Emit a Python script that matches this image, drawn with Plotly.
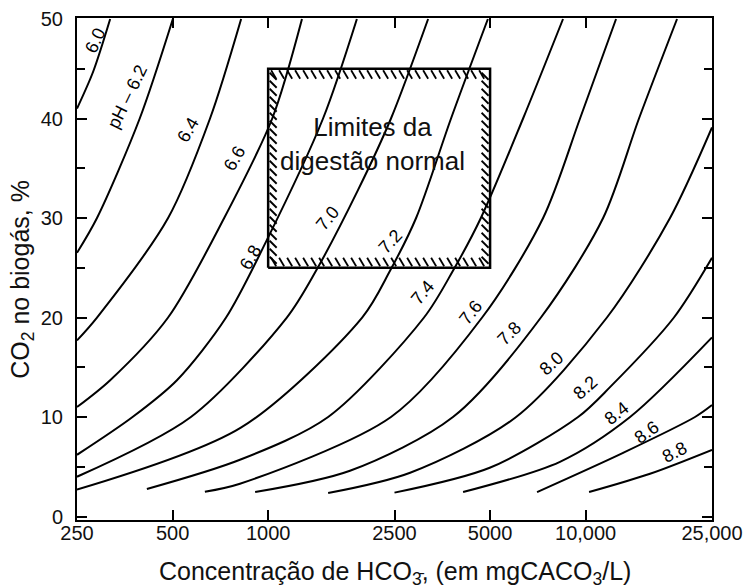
import math
import plotly.graph_objects as go

# ---------------- data ----------------
ph_names = ["6.0", "6.2", "6.4", "6.6", "6.8", "7.0", "7.2", "7.4",
            "7.6", "7.8", "8.0", "8.2", "8.4", "8.6", "8.8"]

x_ph60 = [250, 281, 318]
y_ph60 = [41.0, 44.7, 50]
x_ph62 = [250, 289, 394, 501]
y_ph62 = [26.5, 30, 40, 50]
x_ph64 = [250, 289, 484, 656, 822]
y_ph64 = [17.7, 20, 30, 40, 50]
x_ph66 = [250, 318, 484, 727, 1030, 1278]
y_ph66 = [11.0, 13.7, 20, 30, 40, 50]
x_ph68 = [250, 374, 516, 737, 991, 1489, 1903]
y_ph68 = [6.2, 10, 13.7, 20, 27.8, 40, 50]
x_ph70 = [250, 571, 1145, 1415, 1918, 2437, 3190]
y_ph70 = [4.0, 10, 20, 24.7, 32.8, 40, 50]
x_ph72 = [250, 818, 1977, 2420, 2924, 3767, 4921]
y_ph72 = [2.7, 8.9, 20, 24.7, 30, 40, 50]
x_ph74 = [415, 815, 1545, 3097, 3820, 4677, 6352, 8486]
y_ph74 = [2.76, 5.7, 10, 20, 24.7, 30, 40, 50]
x_ph76 = [632, 815, 2437, 4720, 7345, 9600, 12466]
y_ph76 = [2.5, 3.3, 10, 20, 30, 40, 50]
x_ph78 = [910, 1810, 3820, 7230, 11350, 14723, 19400]
y_ph78 = [2.46, 4.6, 10, 20, 30, 40, 50]
x_ph80 = [1545, 2800, 6040, 11670, 18440, 25000]
y_ph80 = [2.36, 4.4, 10, 20, 30, 39.1]
x_ph82 = [2500, 4987, 9465, 11930, 18970, 25000]
y_ph82 = [2.4, 4.9, 10, 13.0, 20, 26.0]
x_ph84 = [4111, 8300, 13800, 25000]
y_ph84 = [2.46, 5.5, 10, 18.0]
x_ph86 = [7030, 13120, 22100, 25000]
y_ph86 = [2.46, 6.4, 10, 11.2]
x_ph88 = [10250, 15950, 25000]
y_ph88 = [2.46, 4.3, 6.7]

curves_x = [x_ph60, x_ph62, x_ph64, x_ph66, x_ph68, x_ph70, x_ph72, x_ph74,
            x_ph76, x_ph78, x_ph80, x_ph82, x_ph84, x_ph86, x_ph88]
curves_y = [y_ph60, y_ph62, y_ph64, y_ph66, y_ph68, y_ph70, y_ph72, y_ph74,
            y_ph76, y_ph78, y_ph80, y_ph82, y_ph84, y_ph86, y_ph88]

# label anchor positions (data units) and angles
label_text = ["6.0", "pH \u2013 6.2", "6.4", "6.6", "6.8", "7.0", "7.2", "7.4",
              "7.6", "7.8", "8.0", "8.2", "8.4", "8.6", "8.8"]
label_x = [285, 359, 560, 786, 877, 1542, 2420, 3053, 4324, 5776, 7834,
           9953, 12550, 15600, 19110]
label_y = [47.8, 42.2, 38.8, 36.0, 26.0, 30.0, 27.6, 22.5, 20.5, 18.4, 15.4,
           12.9, 10.4, 8.5, 6.5]
label_angle = [-65, -64, -60, -60, -60, -50, -47, -50, -52, -45, -42, -42,
               -38, -36, -27]

x_ticks = [250, 500, 1000, 2500, 5000, 10000, 25000]
x_ticktext = ["250", "500", "1000", "2500", "5000", "10,000", "25,000"]
y_ticks = [0, 10, 20, 30, 40, 50]

box_x = [1000, 5000]
box_y = [25, 45]

# ---------------- layout geometry ----------------
W, H = 743, 588
ML, MR, MT, MB = 77, 31, 18, 68
XR = [math.log10(250), math.log10(25000)]
YR = [-0.35, 50.1]
PXD = (W - ML - MR) / (XR[1] - XR[0])      # pixels per decade
PXY = (H - MT - MB) / (YR[1] - YR[0])      # pixels per y unit

FONT = "Liberation Sans, Arial, sans-serif"

fig = go.Figure()

for cx, cy in zip(curves_x, curves_y):
    fig.add_trace(go.Scatter(x=cx, y=cy, mode="lines",
                             line=dict(color="black", width=2, shape="spline",
                                       smoothing=0.85),
                             hoverinfo="skip", showlegend=False))

# box
bx0, bx1 = box_x
by0, by1 = box_y
fig.add_trace(go.Scatter(x=[bx0, bx1, bx1, bx0, bx0], y=[by0, by0, by1, by1, by0],
                         mode="lines", line=dict(color="black", width=2.5),
                         hoverinfo="skip", showlegend=False))


def xoff(xv, dpx):
    return 10 ** (math.log10(xv) + dpx / PXD)


def yoff(yv, dpx):
    return yv + dpx / PXY


hx, hy = [], []
box_wpx = (math.log10(bx1) - math.log10(bx0)) * PXD
box_hpx = (by1 - by0) * PXY
# top and bottom edges
o = 3.0
while o + 5 < box_wpx - 2:
    hx += [xoff(bx0, o), xoff(bx0, o + 5), None]
    hy += [yoff(by1, -1.5), yoff(by1, -10), None]
    hx += [xoff(bx0, o), xoff(bx0, o + 5), None]
    hy += [yoff(by0, 10), yoff(by0, 1.5), None]
    o += 8
# left and right edges
o = 4.0
while o + 7 < box_hpx - 2:
    hx += [xoff(bx0, 1.5), xoff(bx0, 8.5), None]
    hy += [yoff(by1, -o), yoff(by1, -o - 7), None]
    hx += [xoff(bx1, -8.5), xoff(bx1, -1.5), None]
    hy += [yoff(by1, -o), yoff(by1, -o - 7), None]
    o += 8
fig.add_trace(go.Scatter(x=hx, y=hy, mode="lines",
                         line=dict(color="black", width=1.8),
                         hoverinfo="skip", showlegend=False))

annotations = []
for t, lx, ly, ang in zip(label_text, label_x, label_y, label_angle):
    annotations.append(dict(x=math.log10(lx), y=ly, xref="x", yref="y",
                            text=t, showarrow=False, textangle=ang,
                            font=dict(family=FONT, size=18, color="black")))

annotations.append(dict(x=math.log10(2138), y=37.4, xref="x", yref="y",
                        text="Limites da<br>digestão normal", showarrow=False,
                        font=dict(family=FONT, size=26, color="#111")))

annotations.append(dict(x=0.5, y=-0.106, xref="paper", yref="paper",
                        xanchor="center", yanchor="middle",
                        text="Concentração de HCO<sub>3̄</sub>, (em mgCACO<sub>3</sub>/L)",
                        showarrow=False,
                        font=dict(family=FONT, size=25, color="#111")))
annotations.append(dict(x=-0.087, y=0.48, xref="paper", yref="paper",
                        xanchor="center", yanchor="middle", textangle=-90,
                        text="CO<sub>2</sub> no biogás, %", showarrow=False,
                        font=dict(family=FONT, size=25, color="#111")))

fig.update_layout(
    width=W, height=H,
    margin=dict(l=ML, r=MR, t=MT, b=MB, autoexpand=False),
    paper_bgcolor="white", plot_bgcolor="white",
    annotations=annotations,
    showlegend=False,
)
fig.update_xaxes(type="log", range=XR, tickvals=x_ticks, ticktext=x_ticktext,
                 ticks="inside", ticklen=10, tickwidth=2, tickcolor="black",
                 showline=True, linecolor="black", linewidth=2, mirror="ticks",
                 showgrid=False, zeroline=False, ticklabelstandoff=-6,
                 automargin=False,
                 tickfont=dict(family=FONT, size=20, color="#111"))
fig.update_yaxes(range=YR, tickvals=y_ticks,
                 ticks="inside", ticklen=10, tickwidth=2, tickcolor="black",
                 minor=dict(dtick=5, tick0=0, ticks="inside", ticklen=8,
                            tickwidth=2, tickcolor="black"),
                 showline=True, linecolor="black", linewidth=2, mirror="ticks",
                 showgrid=False, zeroline=False, ticklabelstandoff=8,
                 automargin=False,
                 tickfont=dict(family=FONT, size=20, color="#111"))

fig.write_html("out.html",
               config={"displayModeBar": False},
               post_script="document.body.style.margin='0';"
                           "document.body.style.overflow='hidden';")
